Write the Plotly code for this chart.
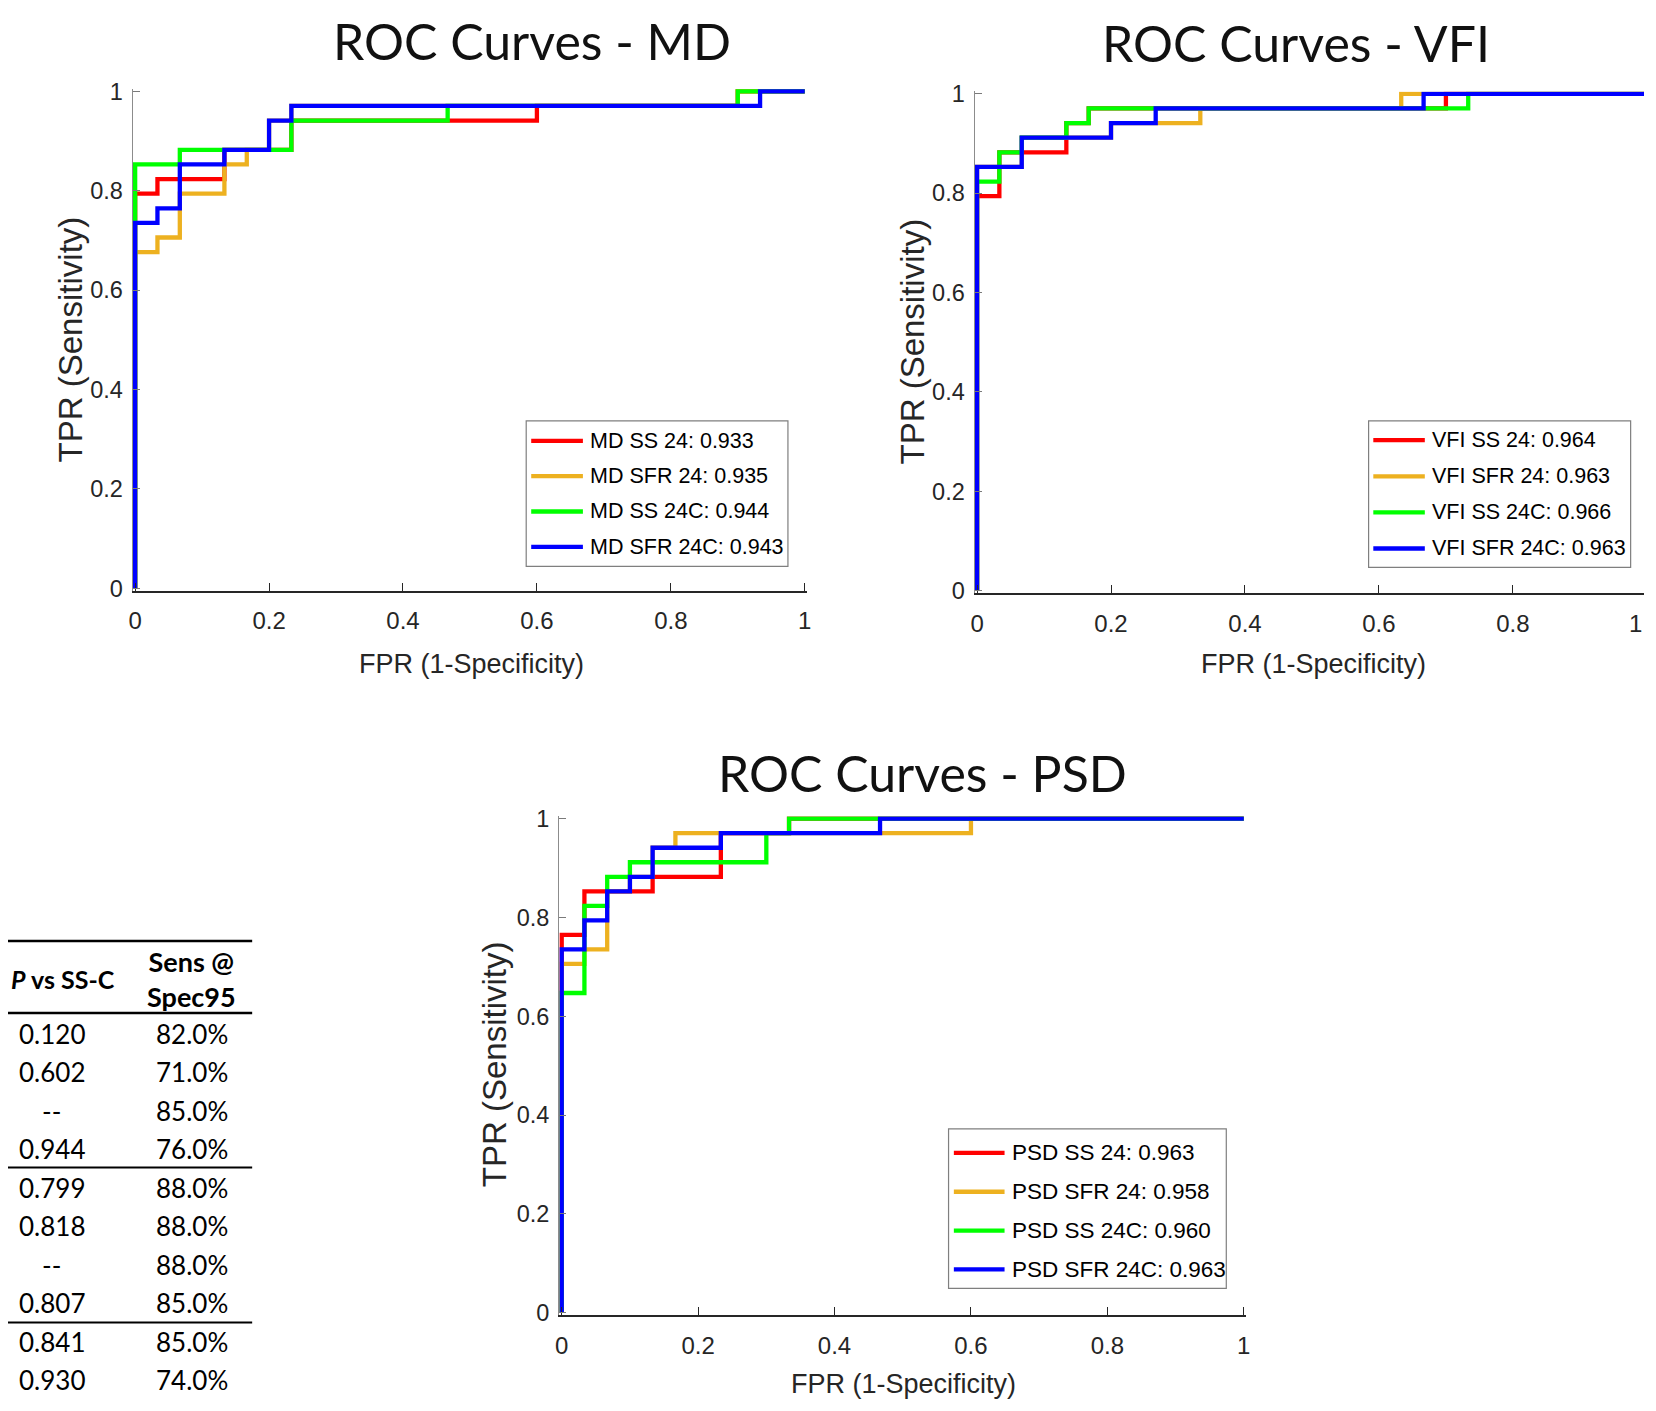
import plotly.graph_objects as go

# ---------------- data (ROC operating points) ----------------
series_names_md = ["MD SS 24: 0.933", "MD SFR 24: 0.935", "MD SS 24C: 0.944", "MD SFR 24C: 0.943"]
md_ss24_fpr = [0, 0, 0.0333, 0.1333, 0.2333, 0.6, 0.9, 1]
md_ss24_tpr = [0, 0.7941, 0.8235, 0.8824, 0.9412, 0.9706, 1, 1]
md_sfr24_fpr = [0, 0, 0.0333, 0.0667, 0.1333, 0.1667, 0.2, 0.2333, 0.9, 1]
md_sfr24_tpr = [0, 0.6765, 0.7059, 0.7941, 0.8529, 0.8824, 0.9412, 0.9706, 1, 1]
md_ss24c_fpr = [0, 0, 0.0667, 0.2333, 0.4667, 0.9, 1]
md_ss24c_tpr = [0, 0.8529, 0.8824, 0.9412, 0.9706, 1, 1]
md_sfr24c_fpr = [0, 0, 0.0333, 0.0667, 0.1333, 0.2, 0.2333, 0.9333, 1]
md_sfr24c_tpr = [0, 0.7353, 0.7647, 0.8529, 0.8824, 0.9412, 0.9706, 1, 1]

series_names_vfi = ["VFI SS 24: 0.964", "VFI SFR 24: 0.963", "VFI SS 24C: 0.966", "VFI SFR 24C: 0.963"]
vfi_ss24_fpr = [0, 0, 0.0333, 0.1333, 0.1667, 0.7, 1]
vfi_ss24_tpr = [0, 0.7941, 0.8824, 0.9412, 0.9706, 1, 1]
vfi_sfr24_fpr = [0, 0, 0.0667, 0.2, 0.3333, 0.6333, 1]
vfi_sfr24_tpr = [0, 0.8529, 0.9118, 0.9412, 0.9706, 1, 1]
vfi_ss24c_fpr = [0, 0, 0.0333, 0.0667, 0.1333, 0.1667, 0.7333, 1]
vfi_ss24c_tpr = [0, 0.8235, 0.8824, 0.9118, 0.9412, 0.9706, 1, 1]
vfi_sfr24c_fpr = [0, 0, 0.0667, 0.2, 0.2667, 0.6667, 1]
vfi_sfr24c_tpr = [0, 0.8529, 0.9118, 0.9412, 0.9706, 1, 1]

series_names_psd = ["PSD SS 24: 0.963", "PSD SFR 24: 0.958", "PSD SS 24C: 0.960", "PSD SFR 24C: 0.963"]
psd_ss24_fpr = [0, 0, 0.0333, 0.1333, 0.2333, 0.3333, 1]
psd_ss24_tpr = [0, 0.7647, 0.8529, 0.8824, 0.9706, 1, 1]
psd_sfr24_fpr = [0, 0, 0.0333, 0.0667, 0.1, 0.1333, 0.1667, 0.6, 1]
psd_sfr24_tpr = [0, 0.7059, 0.7353, 0.8529, 0.8824, 0.9412, 0.9706, 1, 1]
psd_ss24c_fpr = [0, 0, 0.0333, 0.0667, 0.1, 0.3, 0.3333, 1]
psd_ss24c_tpr = [0, 0.6471, 0.8235, 0.8824, 0.9118, 0.9706, 1, 1]
psd_sfr24c_fpr = [0, 0, 0.0333, 0.0667, 0.1, 0.1333, 0.2333, 0.4667, 1]
psd_sfr24c_tpr = [0, 0.7353, 0.7941, 0.8529, 0.8824, 0.9412, 0.9706, 1, 1]

tick_vals = [0, 0.2, 0.4, 0.6, 0.8, 1]
tick_text = ["0", "0.2", "0.4", "0.6", "0.8", "1"]

panel_titles = ["ROC Curves - MD", "ROC Curves - VFI", "ROC Curves - PSD"]
x_title = "FPR (1-Specificity)"
y_title = "TPR (Sensitivity)"

table_headers = ["<b><i>P</i> vs SS-C</b>", "<b>Sens @<br>Spec95</b>"]
table_pvals = ["0.120", "0.602", "--", "0.944", "0.799", "0.818", "--", "0.807", "0.841", "0.930"]
table_sens = ["82.0%", "71.0%", "85.0%", "76.0%", "88.0%", "88.0%", "88.0%", "85.0%", "85.0%", "74.0%"]

# ---------------- page geometry ----------------
PAGE_W, PAGE_H = 1656, 1411
OFF = 8                      # default body margin of the page
FW, FH = PAGE_W - 2 * OFF, PAGE_H - 2 * OFF
# measured relation between page pixels and the photographed picture
CAP_SX, CAP_DX = 0.995, 2.9
CAP_SY, CAP_DY = 0.9853, 10.75


def fig_px_x(t):
    return (t - CAP_DX) / CAP_SX - OFF


def fig_px_y(t):
    return (t - CAP_DY) / CAP_SY - OFF


def px_x(t):
    return fig_px_x(t) / FW


def px_y(t):
    return 1 - fig_px_y(t) / FH


COLORS = ["#FF0000", "#EDB120", "#00FF00", "#0000FF"]
SANS = "Liberation Sans, Arial, Helvetica, sans-serif"
TITLEF = "Lato, Open Sans, sans-serif"
TXT = "#262626"
PADPX = 2.5
LW = 4.3

fig = go.Figure()

panels = [
    dict(names=series_names_md,
         data=[(md_ss24_fpr, md_ss24_tpr), (md_sfr24_fpr, md_sfr24_tpr),
               (md_ss24c_fpr, md_ss24c_tpr), (md_sfr24c_fpr, md_sfr24c_tpr)],
         X0=134.0, X1=803.5, Y0=589.2, Y1=92.0,
         leg=dict(box=(525, 421.7, 786.7, 567.3), line=(530, 581.7), text=587,
                  row0=441.7, pitch=35.3, fs=21.5),
         title=(531, 41.5), xl=(470, 665), yl=(69, 340)),
    dict(names=series_names_vfi,
         data=[(vfi_ss24_fpr, vfi_ss24_tpr), (vfi_sfr24_fpr, vfi_sfr24_tpr),
               (vfi_ss24c_fpr, vfi_ss24c_tpr), (vfi_sfr24c_fpr, vfi_sfr24c_tpr)],
         X0=975.8, X1=1645.5, Y0=591.6, Y1=94.5,
         leg=dict(box=(1367.3, 421.7, 1629.3, 568.3), line=(1372, 1423.5), text=1428.5,
                  row0=441.0, pitch=36.1, fs=21.5),
         title=(1295, 43.5), xl=(1312, 665), yl=(911, 342)),
    dict(names=series_names_psd,
         data=[(psd_ss24_fpr, psd_ss24_tpr), (psd_sfr24_fpr, psd_sfr24_tpr),
               (psd_ss24c_fpr, psd_ss24c_tpr), (psd_sfr24c_fpr, psd_sfr24c_tpr)],
         X0=560.5, X1=1242.5, Y0=1313.8, Y1=819.6,
         leg=dict(box=(947.3, 1130, 1225, 1289.5), line=(952.6, 1003.3), text=1008.5,
                  row0=1154, pitch=38.8, fs=22.5),
         title=(921, 773.5), xl=(902, 1385), yl=(494, 1065)),
]

layout_updates = {}
annotations = []
shapes = []
for i, p in enumerate(panels):
    sfx = "" if i == 0 else str(i + 1)
    for (fx, ty), name, col in zip(p["data"], p["names"], COLORS):
        fig.add_trace(go.Scatter(x=fx, y=ty, mode="lines", line_shape="hv", name=name,
                                 line=dict(color=col, width=LW), showlegend=False,
                                 xaxis="x" + sfx, yaxis="y" + sfx))
    # x axis: data 0..1 placed at X0..X1 (picture px), a little padding so the lines are not clipped
    fx0, fx1 = fig_px_x(p["X0"]), fig_px_x(p["X1"])
    ux = fx1 - fx0
    d_lo = fx0 - PADPX
    d_hi = min(fx1 + PADPX, FW)
    layout_updates["xaxis" + sfx] = dict(
        domain=[d_lo / FW, d_hi / FW],
        range=[(d_lo - fx0) / ux, (d_hi - fx0) / ux], anchor="y" + sfx,
        tickvals=tick_vals, ticktext=tick_text, ticks="inside", ticklen=8, tickwidth=1,
        tickcolor=TXT, showline=True, linecolor=TXT, linewidth=1.5,
        showgrid=False, zeroline=False, ticklabelstandoff=8,
        tickfont=dict(family=SANS, size=24, color=TXT))
    fy0, fy1 = fig_px_y(p["Y0"]), fig_px_y(p["Y1"])   # fig px from top
    uy = fy0 - fy1
    e_lo = fy0 + PADPX
    e_hi = fy1 - PADPX
    layout_updates["yaxis" + sfx] = dict(
        domain=[1 - e_lo / FH, 1 - e_hi / FH],
        range=[-(e_lo - fy0) / uy, (fy0 - e_hi) / uy], anchor="x" + sfx,
        tickvals=tick_vals, ticktext=tick_text, ticks="inside", ticklen=7, tickwidth=1,
        tickcolor="#7a7a7a", showline=True, linecolor="#8c8c8c", linewidth=1.2,
        showgrid=False, zeroline=False, ticklabelstandoff=4,
        tickfont=dict(family=SANS, size=23.5, color=TXT))
    if d_hi < fx1 + PADPX:
        # last tick label would leave the page: write it at the edge instead
        annotations.append(dict(text=tick_text[-1], x=1, y=px_y(p["Y0"] + 33), xref="paper", yref="paper",
                                xanchor="right", yanchor="middle", showarrow=False,
                                font=dict(family=SANS, size=24, color=TXT)))

    # legend box (drawn by hand so that line length / row spacing match)
    lg = p["leg"]
    bx0, by0, bx1, by1 = lg["box"]
    shapes.append(dict(type="rect", xref="paper", yref="paper", layer="above",
                       x0=px_x(bx0), x1=px_x(bx1), y0=px_y(by1), y1=px_y(by0),
                       fillcolor="white", line=dict(color="#7f7f7f", width=1.2)))
    for k, (name, col) in enumerate(zip(p["names"], COLORS)):
        ry = lg["row0"] + k * lg["pitch"]
        shapes.append(dict(type="line", xref="paper", yref="paper", layer="above",
                           x0=px_x(lg["line"][0]), x1=px_x(lg["line"][1]),
                           y0=px_y(ry), y1=px_y(ry), line=dict(color=col, width=LW)))
        annotations.append(dict(text=name, x=px_x(lg["text"]), y=px_y(ry), xref="paper", yref="paper",
                                xanchor="left", yanchor="middle", showarrow=False,
                                font=dict(family=SANS, size=lg["fs"], color="black")))

    tx, ty_ = p["title"]
    annotations.append(dict(text=panel_titles[i], x=px_x(tx), y=px_y(ty_), xref="paper", yref="paper",
                            xanchor="center", yanchor="middle", showarrow=False,
                            font=dict(family=TITLEF, size=50, color="#111111")))
    ax_, ay_ = p["xl"]
    annotations.append(dict(text=x_title, x=px_x(ax_), y=px_y(ay_), xref="paper", yref="paper",
                            xanchor="center", yanchor="middle", showarrow=False,
                            font=dict(family=SANS, size=27, color=TXT)))
    bx, by = p["yl"]
    annotations.append(dict(text=y_title, x=px_x(bx), y=px_y(by), xref="paper", yref="paper",
                            xanchor="center", yanchor="middle", showarrow=False, textangle=-90,
                            font=dict(family=SANS, size=33, color=TXT)))

# ---------------- partial table on the left ----------------
COL1_X, COL2_X = 50.7, 190.6
HDR1_X = 62.0
TABLE_RIGHT = 251.0
ROW0_Y, ROW_PITCH = 1035.0, 38.5
TABLEF = "Lato, Open Sans, sans-serif"
annotations.append(dict(text=table_headers[0], x=px_x(HDR1_X), y=px_y(980), xref="paper", yref="paper",
                        xanchor="center", yanchor="middle", showarrow=False,
                        font=dict(family=TABLEF, size=25, color="black")))
annotations.append(dict(text=table_headers[1], x=px_x(COL2_X), y=px_y(980), xref="paper", yref="paper",
                        xanchor="center", yanchor="middle", showarrow=False,
                        font=dict(family=TABLEF, size=27, color="black")))
for r, (pv, sv) in enumerate(zip(table_pvals, table_sens)):
    yy = px_y(ROW0_Y + r * ROW_PITCH)
    annotations.append(dict(text=pv, x=px_x(COL1_X), y=yy, xref="paper", yref="paper",
                            xanchor="center", yanchor="middle", showarrow=False,
                            font=dict(family=TABLEF, size=26, color="black")))
    annotations.append(dict(text=sv, x=px_x(COL2_X), y=yy, xref="paper", yref="paper",
                            xanchor="center", yanchor="middle", showarrow=False,
                            font=dict(family=TABLEF, size=26, color="black")))

for ly_px, lw in [(942, 2.5), (1014, 2.5), (1168.5, 2), (1323.5, 2)]:
    shapes.append(dict(type="line", xref="paper", yref="paper", x0=-0.01, x1=px_x(TABLE_RIGHT),
                       y0=px_y(ly_px), y1=px_y(ly_px), line=dict(color="black", width=lw)))

fig.update_layout(
    width=FW, height=FH, autosize=False,
    margin=dict(l=0, r=0, t=0, b=0, pad=0),
    paper_bgcolor="white", plot_bgcolor="white",
    showlegend=False,
    annotations=annotations, shapes=shapes,
    **layout_updates,
)

fig.write_html("out.html", config={"displayModeBar": False})
